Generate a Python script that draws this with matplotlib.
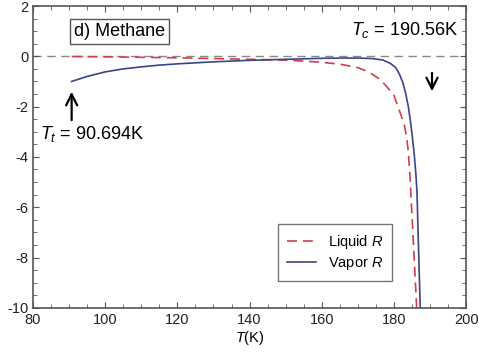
import numpy as np
import matplotlib.pyplot as plt
from matplotlib.ticker import MultipleLocator

plt.rcParams['font.family'] = ['Liberation Sans', 'DejaVu Sans']
plt.rcParams['mathtext.fontset'] = 'custom'
plt.rcParams['mathtext.it'] = 'Liberation Sans:italic'
plt.rcParams['mathtext.rm'] = 'Liberation Sans'
plt.rcParams['axes.unicode_minus'] = False

# Datos
T_liq = [90.694, 100, 110, 120, 130, 140, 150, 155, 160, 165, 170, 173, 176,
         178, 180, 181, 182, 183, 183.6, 184, 184.5, 185, 185.5, 186, 186.3]
R_liq = [-0.01, -0.02, -0.04, -0.06, -0.09, -0.12, -0.15, -0.19, -0.24, -0.31,
         -0.45, -0.62, -0.9, -1.2, -1.55, -1.95, -2.35, -2.8, -3.3, -3.8,
         -4.9, -6.3, -7.7, -9.1, -10.0]

T_vap = [90.694, 95, 100, 105, 110, 115, 120, 125, 130, 135, 140, 145, 150,
         155, 160, 165, 170, 174, 177, 179, 180.5, 181.5, 182.5, 183.3, 184,
         184.6, 185.2, 185.7, 186.1, 186.4, 186.8, 187.3]
R_vap = [-1.0, -0.8, -0.62, -0.5, -0.42, -0.35, -0.3, -0.26, -0.22, -0.19,
         -0.16, -0.14, -0.12, -0.10, -0.08, -0.07, -0.07, -0.09, -0.15, -0.28,
         -0.45, -0.7, -1.05, -1.5, -2.0, -2.6, -3.3, -4.0, -4.7, -5.4, -7.5,
         -10.0]

T_t = 90.694
T_c = 190.56

fig = plt.figure(figsize=(4.79, 3.53), dpi=100)
ax = fig.add_axes([0.069, 0.128, 0.904, 0.855])

gris = '#555555'
ax.axhline(0, color='#888888', lw=1.0, ls=(0, (6, 4)), zorder=1)
ax.plot(T_liq, R_liq, color='#d23c4c', lw=1.2, ls=(0, (6, 3.5)), label='Liquid $R$')
ax.plot(T_vap, R_vap, color='#3c4488', lw=1.2, label='Vapor $R$')

ax.set_xlim(80, 200)
ax.set_ylim(-10, 2)
ax.xaxis.set_major_locator(MultipleLocator(20))
ax.xaxis.set_minor_locator(MultipleLocator(5))
ax.yaxis.set_major_locator(MultipleLocator(2))
ax.yaxis.set_minor_locator(MultipleLocator(0.5))
ax.tick_params(which='both', direction='in', top=True, right=True, color=gris,
               labelsize=10.5, labelcolor='#222222')
ax.tick_params(which='major', length=4)
ax.tick_params(which='minor', length=3)
for s in ax.spines.values():
    s.set_color(gris)
    s.set_linewidth(1.2)

ax.set_xlabel('$T$(K)', fontsize=10.5, labelpad=2)

# Anotaciones
ax.text(0.095, 0.915, 'd) Methane', transform=ax.transAxes, fontsize=13,
        va='center', ha='left',
        bbox=dict(boxstyle='square,pad=0.22', fc='white', ec=gris, lw=1))
ax.annotate('', xy=(T_t, -1.3), xytext=(T_t, -2.65),
            arrowprops=dict(arrowstyle='->,head_length=0.5,head_width=0.25',
                            color='black', lw=1.6, mutation_scale=16))
ax.text(82, -3.1, '$T_t$ = 90.694K', fontsize=13, ha='left', va='center')
ax.annotate('', xy=(T_c, -1.5), xytext=(T_c, -0.55),
            arrowprops=dict(arrowstyle='->,head_length=0.5,head_width=0.25',
                            color='black', lw=1.6, mutation_scale=16))
ax.text(197.8, 1.05, '$T_c$ = 190.56K', fontsize=13, ha='right', va='center')

ax.legend(loc='lower right', bbox_to_anchor=(0.845, 0.065), fontsize=10.5,
          frameon=True, fancybox=False, edgecolor=gris, handlelength=2.0,
          borderpad=0.6, labelspacing=0.3)

plt.savefig('out.png', dpi=100)
